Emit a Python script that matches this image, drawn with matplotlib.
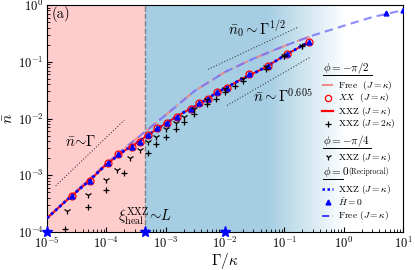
import numpy as np
import matplotlib
matplotlib.use('Agg')
import matplotlib.pyplot as plt
from matplotlib.colors import to_rgb

plt.rcParams['font.family'] = 'serif'
plt.rcParams['font.serif'] = ['cmr10']
plt.rcParams['mathtext.fontset'] = 'cm'
plt.rcParams['axes.unicode_minus'] = False
plt.rcParams['axes.formatter.use_mathtext'] = True

# ---------------- data ----------------
free_gamma = [1e-5, 3e-5, 1e-4, 2e-4, 4e-4, 1e-3, 3e-3, 1e-2, 3e-2, 0.1, 0.3, 1.0, 3.0, 10.0]
free_n = [1.75e-4, 5.1e-4, 1.6e-3, 2.95e-3, 5.3e-3, 1.15e-2, 0.030, 0.066, 0.113, 0.19, 0.29, 0.43, 0.61, 0.81]
free_pink_gamma = [1e-5, 3e-5, 1e-4, 2e-4, 4e-4, 1e-3, 3e-3, 1e-2, 3e-2, 0.1, 0.3]
free_pink_n = [1.75e-4, 5.1e-4, 1.6e-3, 2.95e-3, 5.3e-3, 1.15e-2, 0.030, 0.066, 0.113, 0.19, 0.29]

main_gamma = [1e-5, 2e-5, 5e-5, 1e-4, 2e-4, 3e-4, 5e-4, 1e-3, 2e-3, 3e-3, 5e-3, 7e-3,
              1e-2, 1.5e-2, 2e-2, 3e-2, 5e-2, 0.1, 0.25]
main_n = [1.75e-4, 3.4e-4, 7.8e-4, 1.55e-3, 2.7e-3, 3.5e-3, 5.1e-3, 8.2e-3, 1.28e-2, 1.6e-2,
          2.2e-2, 2.8e-2, 3.4e-2, 4.3e-2, 5.1e-2, 6.2e-2, 8.2e-2, 0.128, 0.218]

xx_gamma = [2.6e-5, 5.3e-5, 1.07e-4, 1.6e-4, 2.7e-4, 3.7e-4, 5.1e-4, 7.2e-4, 1.05e-3, 1.55e-3,
            2.7e-3, 3.7e-3, 5.2e-3, 7.3e-3, 1.07e-2, 2.5e-2, 5.3e-2, 0.11, 0.26]
xx_n = [4.3e-4, 8.0e-4, 1.65e-3, 2.35e-3, 3.2e-3, 3.9e-3, 5.2e-3, 6.9e-3, 8.5e-3, 1.08e-2,
        1.5e-2, 1.85e-2, 2.25e-2, 2.9e-2, 3.5e-2, 6.0e-2, 8.3e-2, 0.137, 0.22]

j2_gamma = [2e-5, 5e-5, 1e-4, 2e-4, 5e-4, 7e-4, 1e-3, 1.5e-3, 2e-3, 3e-3, 5e-3, 7e-3,
            1e-2, 1.5e-2, 2e-2, 5e-2, 0.1, 0.2]
j2_n = [1.13e-4, 2.8e-4, 5.5e-4, 1.1e-3, 2.5e-3, 3.6e-3, 4.8e-3, 6.4e-3, 8.8e-3, 1.22e-2,
        1.77e-2, 2.25e-2, 2.9e-2, 3.7e-2, 4.5e-2, 7.6e-2, 0.125, 0.19]

q_gamma = [2.2e-5, 5e-5, 1e-4, 1.5e-4, 2.5e-4, 3.7e-4, 5e-4, 7e-4, 1e-3, 1.5e-3, 2e-3,
           3e-3, 5e-3, 1e-2, 2e-2, 5e-2, 0.1, 0.2]
q_n = [2.3e-4, 4.5e-4, 8.3e-4, 1.25e-3, 2.0e-3, 2.8e-3, 3.8e-3, 4.8e-3, 6.4e-3, 8.5e-3, 1.08e-2,
       1.5e-2, 2.1e-2, 3.3e-2, 5.0e-2, 8.1e-2, 0.127, 0.19]

h0_gamma = xx_gamma + [5.2, 10.0]
h0_n = xx_n + [0.72, 0.81]

star_gamma = [1e-5, 4.5e-4, 1e-2]
star_n = [1e-4, 1e-4, 1e-4]

boundary = 4.5e-4

guide1_gamma, guide1_n = [1.4e-5, 2.0e-4], [6.5e-4, 9.3e-3]
guide2_gamma, guide2_n = [5.2e-3, 0.171], [0.0736, 0.408]
guide3_gamma, guide3_n = [0.0108, 0.272], [0.0169, 0.12]

# ---------------- figure ----------------
W, H = 415, 270
fig = plt.figure(figsize=(W / 100, H / 100), dpi=100)
L, R, T, B = 47, 403, 5, 232
ax = fig.add_axes([L / W, 1 - B / H, (R - L) / W, (B - T) / H])
ax.set_xscale('log')
ax.set_yscale('log')
ax.set_xlim(1e-5, 10)
ax.set_ylim(1e-4, 1)

# backgrounds
ax.axvspan(1e-5, boundary, color='#ffcccc', zorder=0, lw=0)
f0 = (np.log10(boundary) + 5) / 6
nx = 400
fr = np.linspace(f0, 1, nx)
g1, g2 = 0.62, 0.84
t = np.clip((fr - g1) / (g2 - g1), 0, 1)
c = np.array(to_rgb('#a6cee3'))
img = (1 - t)[:, None] * c[None, :] + t[:, None] * np.ones(3)[None, :]
img = np.tile(img[None, :, :], (2, 1, 1))
ax.imshow(img, extent=[f0, 1, 0, 1], transform=ax.transAxes, aspect='auto',
          zorder=0.5, interpolation='bilinear')
ax.axvline(boundary, color='gray', ls='--', lw=1.0, zorder=1)

# guide lines
for gx, gy in [(guide1_gamma, guide1_n), (guide2_gamma, guide2_n), (guide3_gamma, guide3_n)]:
    ax.plot(gx, gy, ls=':', color='#444444', lw=0.8, zorder=2)

# curves
ax.plot(free_pink_gamma, free_pink_n, ls='-.', color='#f08080', alpha=0.8, lw=1.5, zorder=3)
ax.plot(free_gamma, free_n, ls=(0, (4, 2.5)), color='#6f6fff', alpha=0.8, lw=1.5, zorder=3)
ax.plot(main_gamma, main_n, '-', color='red', lw=1.3, zorder=4)
ax.plot(main_gamma, main_n, ls=(0, (1, 1)), color='blue', lw=2.0, zorder=5)
ax.plot(xx_gamma, xx_n, 'o', mfc='none', mec='red', ms=5, mew=0.9, zorder=6)
ax.plot(h0_gamma, h0_n, '^', color='blue', ms=3.5, lw=0, zorder=6)
ax.plot(j2_gamma, j2_n, '+', color='black', ms=5, mew=0.9, lw=0, zorder=6)
ax.plot(q_gamma, q_n, '1', color='black', ms=5, mew=0.9, lw=0, zorder=6)
ax.plot(star_gamma, star_n, '*', color='blue', ms=8, lw=0, clip_on=False, zorder=10)

# ticks / labels
ax.tick_params(which='both', direction='in', top=False, right=False, labelsize=9)
ax.tick_params(which='major', length=3.5, pad=2.5)
ax.tick_params(which='minor', length=2)
ax.set_xlabel(r'$\Gamma/\kappa$', fontsize=11, labelpad=0)
ax.set_ylabel(r'$\bar{n}$', fontsize=11, labelpad=1)

# annotations
def fx(px):
    return (px - L) / (R - L)

def fy(py):
    return (B - py) / (B - T)

ax.text(fx(52), fy(14), '(a)', fontsize=10.5, transform=ax.transAxes, va='center', ha='left')
ax.text(fx(81), fy(141), r'$\bar{n}\!\sim\!\Gamma$', fontsize=10.5, transform=ax.transAxes,
        ha='center', va='center')
ax.text(fx(257), fy(29), r'$\bar{n}_0\sim\Gamma^{1/2}$', fontsize=10.5, transform=ax.transAxes,
        ha='center', va='center')
ax.text(fx(283), fy(96), r'$\bar{n}\sim\Gamma^{0.605}$', fontsize=10.5, transform=ax.transAxes,
        ha='center', va='center')
ax.text(fx(145), fy(216), r'$\xi_{\rm heal}^{\rm XXZ}\!\sim\! L$', fontsize=10.5,
        transform=ax.transAxes, ha='center', va='center')

# manual legend
lfs = 6.8
hx0, hx1, hxc, tx = 322, 333, 327.5, 338

def header(py, txt, ux1, ux0=323):
    ax.text(fx(ux0), fy(py), txt, fontsize=8, transform=ax.transAxes, ha='left', va='center')
    ax.plot([fx(ux0), fx(ux1)], [fy(py + 6.5), fy(py + 6.5)], color='black', lw=0.7,
            transform=ax.transAxes, clip_on=False)

def row(py, txt):
    ax.text(fx(tx), fy(py), txt, fontsize=lfs, transform=ax.transAxes, ha='left', va='center')

header(68, r'$\phi=-\pi/2$', 372)
ax.plot([fx(hx0), fx(hx1)], [fy(85)] * 2, ls='-.', color='#f08080', lw=1.3, transform=ax.transAxes)
row(85, r'Free  $(J=\kappa)$')
ax.plot([fx(hxc)], [fy(98)], 'o', mfc='none', mec='red', ms=4.5, mew=0.9, transform=ax.transAxes)
row(98, r'$XX$  $(J=\kappa)$')
ax.plot([fx(hx0), fx(hx1)], [fy(111)] * 2, '-', color='red', lw=1.6, transform=ax.transAxes)
row(111, r'XXZ $(J=\kappa)$')
ax.plot([fx(hxc)], [fy(124)], '+', color='black', ms=4.5, mew=0.9, transform=ax.transAxes)
row(124, r'XXZ $(J=2\kappa)$')
header(141, r'$\phi=-\pi/4$', 371)
ax.plot([fx(hxc)], [fy(157)], '1', color='black', ms=4.5, mew=0.9, transform=ax.transAxes)
row(157, r'XXZ $(J=\kappa)$')
ax.text(fx(323), fy(172), r'$\phi=0$', fontsize=8, transform=ax.transAxes, ha='left', va='center')
ax.text(fx(348), fy(172), '(Reciprocal)', fontsize=5.5, transform=ax.transAxes, ha='left',
        va='center')
ax.plot([fx(323), fx(343)], [fy(178.5), fy(178.5)], color='black', lw=0.7, transform=ax.transAxes)
ax.plot([fx(hx0), fx(hx1)], [fy(189)] * 2, ls=(0, (1, 1)), color='blue', lw=1.8,
        transform=ax.transAxes)
row(189, r'XXZ $(J=\kappa)$')
ax.plot([fx(hxc)], [fy(202)], '^', color='blue', ms=3.5, transform=ax.transAxes)
row(202, r'$\hat{H}=0$')
ax.plot([fx(hx0), fx(hx1)], [fy(216)] * 2, ls=(0, (4, 2)), color='#3030ff', lw=1.3,
        transform=ax.transAxes)
row(216, r'Free $(J=\kappa)$')

fig.savefig('out.png', dpi=100)
